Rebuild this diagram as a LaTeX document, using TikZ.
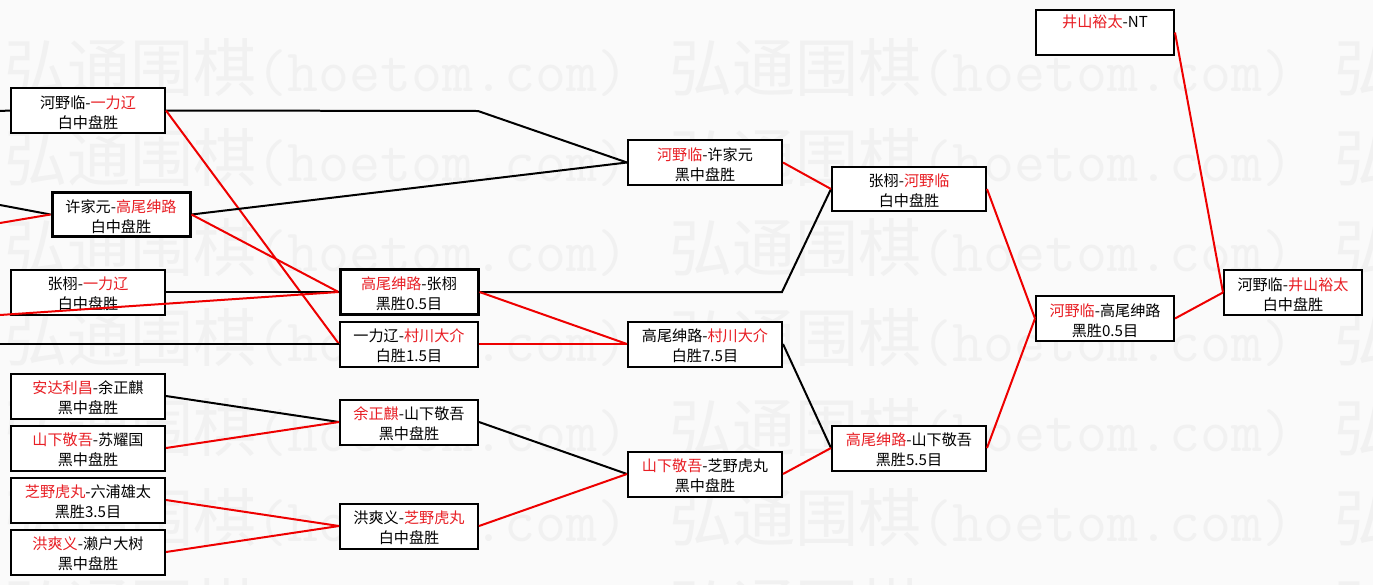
\documentclass[tikz,border=0pt]{standalone}
\usepackage{fontspec}
\newfontfamily\cjk{Noto Sans CJK SC}
\definecolor{bgc}{RGB}{250,250,250}
\definecolor{wmc}{RGB}{241,241,241}
\definecolor{rtxt}{RGB}{232,30,36}
\definecolor{rline}{RGB}{238,0,0}
\newcommand\rd[1]{\textcolor{rtxt}{#1}}
\newcommand\wmtext{{\cjk\fontsize{35.9}{36}\selectfont 弘通围棋}{\ttfamily\fontsize{34.2}{36}\selectfont (hoetom.com)}}
\newcommand\gbox[6][]{\node[box,#1,minimum width=#5*0.02cm] (#2) at (#3,#4) {};\node[txt] (#2t) at (#3,#4+2) {#6};}
\begin{document}
\begin{tikzpicture}[x=0.02cm,y=-0.02cm,
  box/.style={draw=black,line width=0.04cm,fill=white,minimum height=0.9cm,inner sep=0},
  thickbox/.style={line width=0.06cm},
  txt/.style={font=\cjk\fontsize{8.6}{11.4}\selectfont,align=center,inner sep=0},
  bl/.style={draw=black,line width=0.04cm},
  rl/.style={draw=rline,line width=0.04cm},
  wm/.style={text=wmc,anchor=base west,inner sep=0}]
\fill[bgc] (0,0) rectangle (1373,585);
\useasboundingbox (0,0) rectangle (1373,585);
\begin{scope}
\clip (0,0) rectangle (1373,585);
\foreach \r in {0,...,6}{\foreach \k in {0,1,2}{\node[wm] at (4+665*\k,91+90*\r) {\wmtext};}}
\end{scope}
% boxes
\gbox{A}{88}{110.5}{154}{河野临-\rd{一力辽}\\白中盘胜}
\gbox[thickbox]{B}{121}{214.5}{138}{许家元-\rd{高尾绅路}\\白中盘胜}
\gbox{C}{88}{292}{154}{张栩-\rd{一力辽}\\白中盘胜}
\gbox[thickbox]{D}{409}{292}{138}{\rd{高尾绅路}-张栩\\黑胜0.5目}
\gbox{E}{409}{344}{138}{一力辽-\rd{村川大介}\\白胜1.5目}
\gbox{F}{88}{396}{154}{\rd{安达利昌}-余正麒\\黑中盘胜}
\gbox{G}{88}{448}{154}{\rd{山下敬吾}-苏耀国\\黑中盘胜}
\gbox{H}{88}{500}{154}{\rd{芝野虎丸}-六浦雄太\\黑胜3.5目}
\gbox{I}{88}{552}{154}{\rd{洪爽义}-濑户大树\\黑中盘胜}
\gbox{J}{409}{422}{138}{\rd{余正麒}-山下敬吾\\黑中盘胜}
\gbox{K}{409}{526}{138}{洪爽义-\rd{芝野虎丸}\\白中盘胜}
\gbox{L}{705}{162.5}{154}{\rd{河野临}-许家元\\黑中盘胜}
\gbox{M}{705}{344}{154}{高尾绅路-\rd{村川大介}\\白胜7.5目}
\gbox{N}{705}{474}{154}{\rd{山下敬吾}-芝野虎丸\\黑中盘胜}
\gbox{O}{909}{189}{154}{张栩-\rd{河野临}\\白中盘胜}
\gbox{P}{909}{448}{154}{\rd{高尾绅路}-山下敬吾\\黑胜5.5目}
\gbox{Q}{1105}{318.5}{138}{\rd{河野临}-高尾绅路\\黑胜0.5目}
\node[box,minimum width=138*0.02cm] (R) at (1105,32.5) {};
\node[txt] (Rt) at (1105,22) {\rd{井山裕太}-NT};
\gbox{S}{1293}{292.5}{138}{河野临-\rd{井山裕太}\\白中盘胜}
% free ends and bends
\coordinate (eA) at (0,111);
\coordinate (eB1) at (0,205);
\coordinate (eB2) at (0,223);
\coordinate (eD) at (0,315);
\coordinate (eE) at (0,344);
\coordinate (kA) at (478,111);
\coordinate (kD) at (782,292);
% connectors
\draw[bl] (eA) -- (A.west);
\draw[bl] (A.east) -- (kA) -- (L.west);
\draw[rl] (A.east) -- (E.west);
\draw[bl] (eB1) -- (B.west);
\draw[rl] (eB2) -- (B.west);
\draw[bl] (B.east) -- (L.west);
\draw[rl] (B.east) -- (D.west);
\draw[bl] (C.east) -- (D.west);
\draw[rl] (eD) -- (D.west);
\draw[bl] (eE) -- (E.west);
\draw[bl] (D.east) -- (kD) -- (O.west);
\draw[rl] (D.east) -- (M.west);
\draw[rl] (E.east) -- (M.west);
\draw[bl] (F.east) -- (J.west);
\draw[rl] (G.east) -- (J.west);
\draw[rl] (H.east) -- (K.west);
\draw[rl] (I.east) -- (K.west);
\draw[bl] (J.east) -- (N.west);
\draw[rl] (K.east) -- (N.west);
\draw[rl] (L.east) -- (O.west);
\draw[bl] (M.east) -- (P.west);
\draw[rl] (N.east) -- (P.west);
\draw[rl] (O.east) -- (Q.west);
\draw[rl] (P.east) -- (Q.west);
\draw[rl] (Q.east) -- (S.west);
\draw[rl] (R.east) -- (S.west);
\end{tikzpicture}
\end{document}
